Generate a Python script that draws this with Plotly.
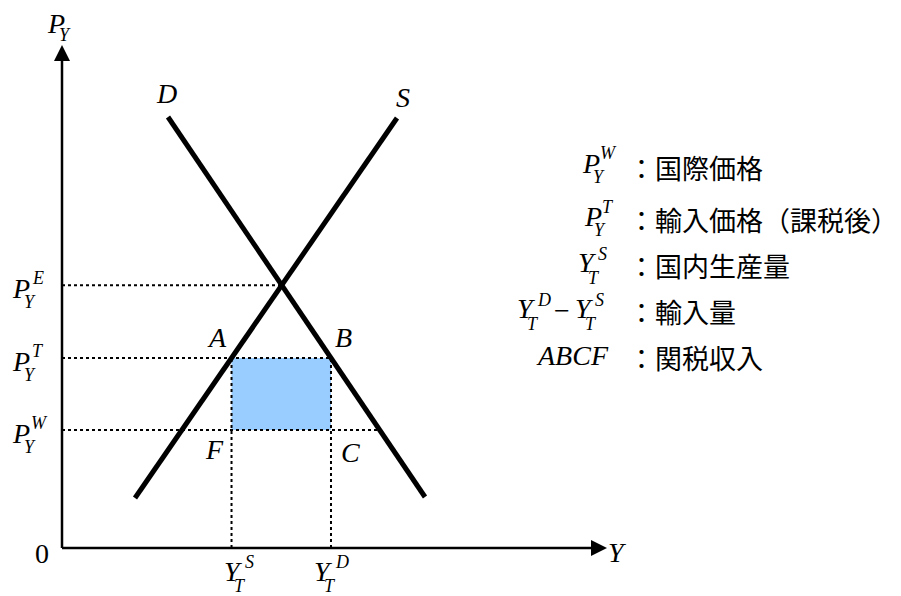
import plotly.graph_objects as go

# ---- data (units: 1 = 10 px) ----
supply_x = [7.3, 33.5]
supply_y = [5.0, 43.0]
demand_x = [10.6, 36.3]
demand_y = [43.1, 5.1]
price_world = 11.8      # P_Y^W
price_tariff = 19.0     # P_Y^T
x_axis_end = 54.5
y_axis_end = 50.3

legend_labels = ["：国際価格", "：輸入価格（課税後）", "：国内生産量", "：輸入量", "：関税収入"]


def s_slope():
    return (supply_y[1] - supply_y[0]) / (supply_x[1] - supply_x[0])


def d_slope():
    return (demand_y[1] - demand_y[0]) / (demand_x[1] - demand_x[0])


def supply_q(p):
    return supply_x[0] + (p - supply_y[0]) / s_slope()


def demand_q(p):
    return demand_x[0] + (p - demand_y[0]) / d_slope()


# equilibrium
ms, md = s_slope(), d_slope()
x_eq = (demand_y[0] - md * demand_x[0] - supply_y[0] + ms * supply_x[0]) / (ms - md)
price_eq = supply_y[0] + ms * (x_eq - supply_x[0])
q_supply_T = supply_q(price_tariff)
q_demand_T = demand_q(price_tariff)
q_demand_W = demand_q(price_world)

fig = go.Figure()

# tariff revenue rectangle
fig.add_trace(go.Scatter(
    x=[q_supply_T, q_demand_T, q_demand_T, q_supply_T, q_supply_T],
    y=[price_tariff, price_tariff, price_world, price_world, price_tariff],
    mode="lines", fill="toself", fillcolor="#99CCFF", line=dict(width=0),
    hoverinfo="skip"))

dot = dict(color="black", width=2, dash="3px,3px")
for xs, ys in [
    ([0, x_eq], [price_eq, price_eq]),
    ([0, q_demand_T], [price_tariff, price_tariff]),
    ([0, q_demand_W], [price_world, price_world]),
    ([q_supply_T, q_supply_T], [0, price_tariff]),
    ([q_demand_T, q_demand_T], [0, price_tariff]),
]:
    fig.add_trace(go.Scatter(x=xs, y=ys, mode="lines", line=dot, hoverinfo="skip"))

# supply & demand
fig.add_trace(go.Scatter(x=demand_x, y=demand_y, mode="lines",
                         line=dict(color="black", width=5), hoverinfo="skip"))
fig.add_trace(go.Scatter(x=supply_x, y=supply_y, mode="lines",
                         line=dict(color="black", width=5), hoverinfo="skip"))

# axes
head_len, head_half = 1.6, 0.8
fig.add_trace(go.Scatter(x=[0, 0], y=[0, y_axis_end - head_len], mode="lines",
                         line=dict(color="black", width=2.5), hoverinfo="skip"))
fig.add_trace(go.Scatter(x=[0, x_axis_end - head_len], y=[0, 0], mode="lines",
                         line=dict(color="black", width=2.5), hoverinfo="skip"))
fig.add_shape(type="path",
              path=f"M {-head_half},{y_axis_end - head_len} L {head_half},{y_axis_end - head_len} L 0,{y_axis_end} Z",
              fillcolor="black", line=dict(width=0))
fig.add_shape(type="path",
              path=f"M {x_axis_end - head_len},{-head_half} L {x_axis_end - head_len},{head_half} L {x_axis_end},0 Z",
              fillcolor="black", line=dict(width=0))

SERIF = "Liberation Serif, Times New Roman, serif"
CJK = "Noto Sans CJK JP"


def dx(px):
    return (px - 62) / 10.0


def dy(py):
    return (548 - py) / 10.0


def txt(text, lx, cy, size=28, italic=True, family=SERIF, anchor="left"):
    t = f"<i>{text}</i>" if italic else text
    fig.add_annotation(x=dx(lx), y=dy(cy), xref="x", yref="y", text=t,
                       showarrow=False, xanchor=anchor, yanchor="middle",
                       borderpad=0,
                       font=dict(family=family, size=size, color="black"))


def math(base, lx, cy, sup=None, sx=None, sy=None, sub=None, ux=None, uy=None,
         size=28, ssize=18):
    txt(base, lx, cy, size)
    if sup:
        txt(sup, sx, sy, ssize)
    if sub:
        txt(sub, ux, uy, ssize)


# axis labels
math("P", 46, 23, sub="Y", ux=58, uy=35)
txt("Y", 607, 552)
txt("0", 34, 553, italic=False)

# price labels
math("P", 11, 288, "E", 31, 278, "Y", 23, 302)
math("P", 11, 361, "T", 31, 351, "Y", 23, 375)
math("P", 11, 433, "W", 30, 423, "Y", 23, 447)

# quantity labels
math("Y", 223, 571, "S", 244, 562, "T", 233, 586)
math("Y", 313, 571, "D", 334, 562, "T", 323, 586)

# curve / point labels
txt("D", 155, 93)
txt("S", 395, 97)
txt("A", 206, 337)
txt("B", 334, 337)
txt("F", 204, 449)
txt("C", 340, 452)

# legend block
math("P", 581, 163, "W", 599, 153, "Y", 592, 177)
math("P", 583, 216, "T", 601, 207, "Y", 593, 230)
math("Y", 577, 262, "S", 597, 254, "T", 587, 278)
math("Y", 516, 308, "D", 536, 300, "T", 526, 324)
txt("−", 553, 310, italic=False)
math("Y", 574, 308, "S", 594, 300, "T", 584, 324)
txt("ABCF", 535, 355)

for lab, cy in zip(legend_labels, [167, 219, 265, 311, 357]):
    txt(lab, 627, cy, size=27, italic=False, family=CJK)

fig.update_layout(
    width=901, height=596, margin=dict(l=0, r=0, t=0, b=0),
    paper_bgcolor="white", plot_bgcolor="white", showlegend=False,
    xaxis=dict(visible=False, range=[-6.2, 83.9], fixedrange=True),
    yaxis=dict(visible=False, range=[-4.8, 54.8], fixedrange=True),
)

fig.write_html("out.html", config={"displayModeBar": False},
               post_script="document.body.style.margin='0';")
